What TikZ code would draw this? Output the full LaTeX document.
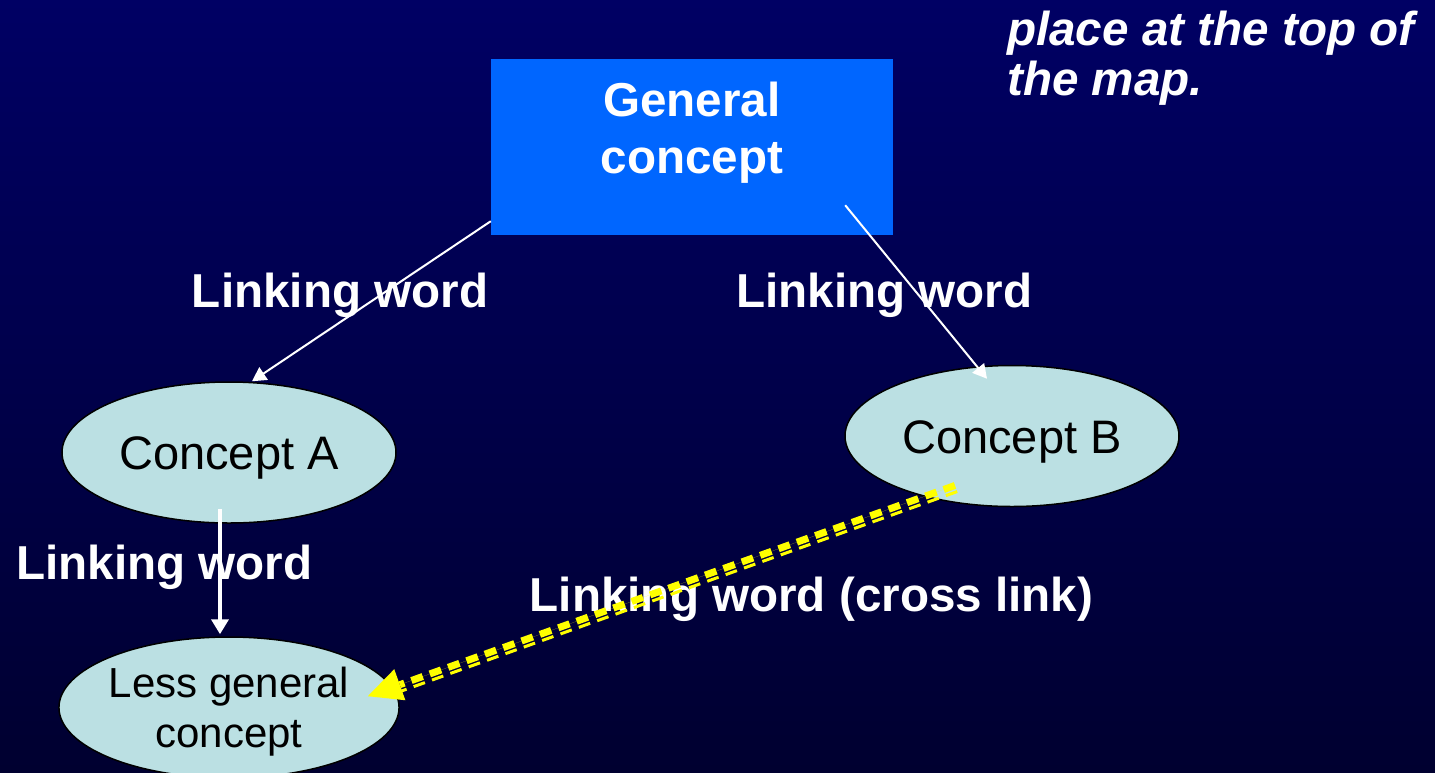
\documentclass[tikz,border=0pt]{standalone}
\usepackage{fontspec}
\setmainfont{Liberation Sans}
\usetikzlibrary{shapes.geometric,arrows.meta}
\definecolor{bgtop}{RGB}{0,0,100}
\definecolor{bgbottom}{RGB}{0,0,48}
\definecolor{boxblue}{RGB}{0,102,255}
\definecolor{ovalfill}{RGB}{187,224,227}
\definecolor{crossyellow}{RGB}{255,255,0}

\begin{document}
\begin{tikzpicture}[x=1pt,y=-1pt]
\tikzstyle{every node}+=[inner sep=0pt]
\tikzstyle{linkword}=[font=\fontsize{47.6}{57}\selectfont\bfseries, text=white, anchor=base]
\tikzstyle{concept}=[ellipse, draw=black, line width=1.5pt, fill=ovalfill, minimum width=334pt, minimum height=141pt]
\tikzstyle{oneline}=[font=\fontsize{47}{56}\selectfont, text height=34pt, text depth=0pt]
\tikzstyle{linkarrow}=[draw=white, line width=2pt, -{Triangle[length=14pt,width=15pt]}]
\tikzstyle{crossdash}=[draw=crossyellow, dash pattern=on 12pt off 7.5pt]
\shade [top color=bgtop, bottom color=bgbottom] (0,0) rectangle (1435,772);
\useasboundingbox (0,0) rectangle (1435,772);
\node (gen) [fill=boxblue, minimum width=402pt, minimum height=176pt] at (692,147) {};
\node (gentext) [font=\fontsize{47.6}{57}\selectfont\bfseries, text=white, align=center, anchor=north] at (692,82) {General\\concept};
\node (ca) [concept, oneline] at (229,452.5) {Concept A};
\node (cb) [concept, oneline] at (1012,436) {Concept B};
\node (lg) [concept, align=center, font=\fontsize{42}{50}\selectfont, text depth=0pt] at (229,707.5) {Less general\\concept};
\node (lwa) [linkword] at (340,307) {Linking word};
\node (lwb) [linkword] at (884.5,307) {Linking word};
\node (lwc) [linkword] at (164.5,579) {Linking word};
\node (lwx) [linkword] at (811.5,611) {Linking word (cross link)};
\node (note) [font=\fontsize{47.6}{50}\selectfont\bfseries\itshape, text=white, align=left, anchor=north west] at (1007,10.5) {place at the top of\\the map.};
\draw [linkarrow] ([yshift=14pt]gen.south west) -- ([xshift=23pt]ca.north);
\draw [linkarrow] ([xshift=-48pt,yshift=30pt]gen.south east) -- ([xshift=-25pt,yshift=-14pt]cb.north);
\draw [draw=white, line width=4pt, -{Triangle[length=15pt,width=17pt]}] ([xshift=-9pt,yshift=15pt]ca.south) -- ([xshift=-9pt,yshift=2pt]lg.north);
\draw [crossdash, line width=7pt, transform canvas={shift={(-1pt,2.8pt)}}, -{Triangle[length=34pt,width=33pt,line width=0pt]}, fill=crossyellow] ([xshift=-56pt,yshift=19pt]cb.south) -- ([xshift=-31pt,yshift=8.5pt]lg.east);
\draw [crossdash, line width=3pt, transform canvas={shift={(1.2pt,-3.3pt)}}, shorten >=30pt] ([xshift=-56pt,yshift=19pt]cb.south) -- ([xshift=-31pt,yshift=8.5pt]lg.east);
\end{tikzpicture}
\end{document}
